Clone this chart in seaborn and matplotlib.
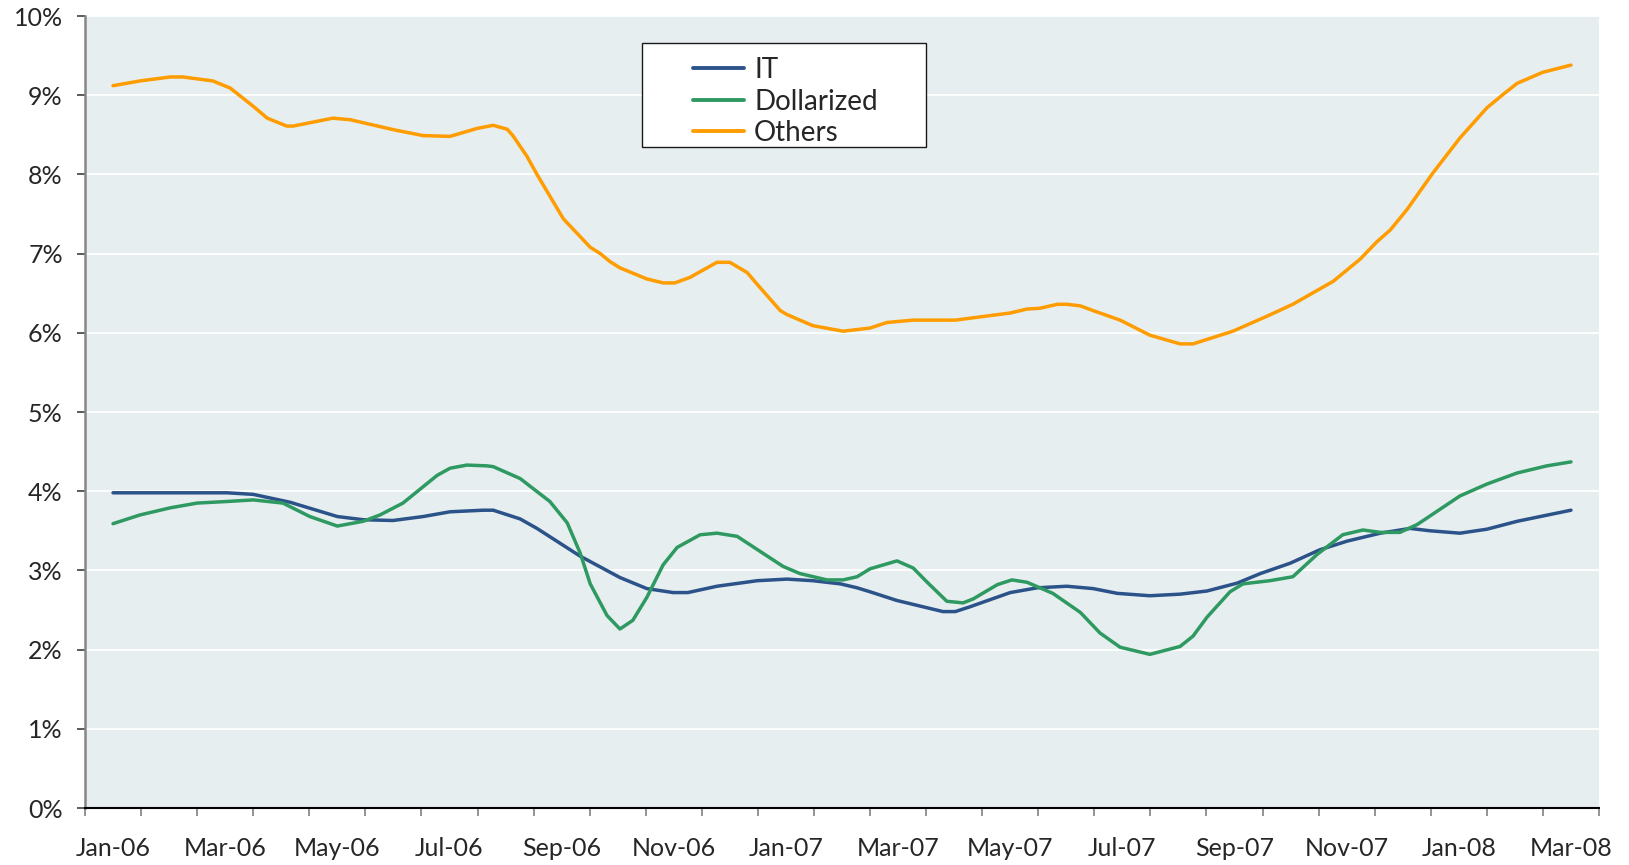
import matplotlib
matplotlib.use("Agg")
import matplotlib.pyplot as plt
import seaborn as sns
import numpy as np
from matplotlib.ticker import FuncFormatter, FixedLocator, NullFormatter
from matplotlib.patches import Rectangle

# ---------------- data ----------------
months = ["Jan-06", "Feb-06", "Mar-06", "Apr-06", "May-06", "Jun-06", "Jul-06", "Aug-06",
          "Sep-06", "Oct-06", "Nov-06", "Dec-06", "Jan-07", "Feb-07", "Mar-07", "Apr-07",
          "May-07", "Jun-07", "Jul-07", "Aug-07", "Sep-07", "Oct-07", "Nov-07", "Dec-07",
          "Jan-08", "Feb-08", "Mar-08"]
tick_labels = months[::2]

# time in months since Jan-06 (0 = Jan-06)
it_t = [0.00, 2.03, 2.50, 3.16, 4.00, 4.46, 4.99, 5.53, 6.01, 6.60, 6.78, 7.26, 7.56, 8.33, 9.04,
        9.52, 9.99, 10.25, 10.77, 11.49, 12.02, 12.48, 12.97, 13.27, 13.50, 13.98, 14.80, 15.02,
        15.28, 16.00, 16.48, 17.01, 17.48, 17.91, 18.49, 19.03, 19.51, 20.05, 20.46, 20.99, 21.52,
        22.01, 22.60, 23.13, 23.49, 24.02, 24.50, 25.04, 26.00]
it_v = [3.98, 3.98, 3.96, 3.86, 3.68, 3.64, 3.63, 3.68, 3.74, 3.76, 3.76, 3.65, 3.53, 3.18, 2.91,
        2.77, 2.72, 2.72, 2.80, 2.87, 2.89, 2.87, 2.83, 2.78, 2.73, 2.62, 2.48, 2.48,
        2.54, 2.72, 2.78, 2.80, 2.77, 2.71, 2.68, 2.70, 2.74, 2.84, 2.96, 3.09, 3.26,
        3.37, 3.47, 3.53, 3.50, 3.47, 3.52, 3.62, 3.76]

dol_t = [0.00, 0.48, 1.02, 1.50, 2.03, 2.50, 3.03, 3.51, 4.00, 4.46, 4.76, 5.17, 5.78, 6.01, 6.31,
         6.67, 6.78, 7.26, 7.79, 8.10, 8.33, 8.51, 8.81, 9.04, 9.27, 9.52, 9.81, 10.06, 10.47, 10.77,
         11.13, 11.54, 11.95, 12.25, 12.73, 13.02, 13.27, 13.50, 13.98, 14.27, 14.52, 14.87, 15.16,
         15.34, 15.77, 16.03, 16.30, 16.76, 17.25, 17.60, 17.96, 18.49, 19.03, 19.26, 19.51, 19.92,
         20.15, 20.63, 21.04, 21.47, 21.93, 22.29, 22.60, 22.95, 23.26, 24.02, 24.50, 25.04, 25.57,
         26.00]
dol_v = [3.59, 3.70, 3.79, 3.85, 3.87, 3.89, 3.85, 3.68, 3.56, 3.62, 3.70, 3.85, 4.20, 4.29, 4.33,
         4.32, 4.31, 4.16, 3.87, 3.60, 3.22, 2.83, 2.43, 2.26, 2.37, 2.66, 3.07, 3.29, 3.45, 3.47,
         3.43, 3.24, 3.05, 2.96, 2.88, 2.88, 2.92, 3.02, 3.12, 3.03, 2.85, 2.61, 2.59,
         2.64, 2.82, 2.88, 2.85, 2.71, 2.47, 2.21, 2.03, 1.94, 2.04, 2.17, 2.41, 2.73,
         2.83, 2.87, 2.92, 3.20, 3.45, 3.51, 3.48, 3.48, 3.58, 3.94, 4.09, 4.23, 4.32,
         4.37]

oth_t = [0.00, 0.48, 1.02, 1.25, 1.78, 2.09, 2.50, 2.75, 3.10, 3.21, 3.92, 4.23, 5.03, 5.53, 6.01,
         6.49, 6.78, 7.03, 7.13, 7.38, 7.56, 8.03, 8.51, 8.69, 8.86, 9.04, 9.52, 9.81, 10.02, 10.29,
         10.77, 11.00, 11.31, 11.49, 11.90, 12.02, 12.48, 13.02, 13.50, 13.80, 14.27, 15.02, 16.00,
         16.30, 16.53, 16.84, 17.01, 17.25, 17.48, 17.96, 18.49, 19.03, 19.26, 19.97, 20.58, 21.04,
         21.76, 22.24, 22.54, 22.78, 23.08, 23.54, 24.02, 24.50, 24.79, 25.04, 25.50, 26.00]
oth_v = [9.12, 9.18, 9.23, 9.23, 9.18, 9.09, 8.86, 8.71, 8.61, 8.61, 8.71, 8.69, 8.56, 8.49, 8.48,
         8.58, 8.62, 8.57, 8.49, 8.23, 8.00, 7.44, 7.08, 7.00, 6.90, 6.82, 6.68, 6.63, 6.63, 6.70,
         6.89, 6.89, 6.76, 6.61, 6.28, 6.23, 6.09, 6.02, 6.06, 6.13, 6.16, 6.16, 6.25,
         6.30, 6.31, 6.36, 6.36, 6.34, 6.28, 6.16, 5.97, 5.86, 5.86, 6.02, 6.21, 6.36,
         6.65, 6.93, 7.15, 7.30, 7.56, 8.02, 8.46, 8.84, 9.01, 9.15, 9.29, 9.38]

series_names = ["IT", "Dollarized", "Others"]
colors = ["#2C5389", "#2E9960", "#FF9C00"]

# ---------------- style ----------------
sns.set_style("white")
plt.rcParams["font.family"] = ["Lato", "DejaVu Sans"]

W, H = 1629, 865
fig = plt.figure(figsize=(W / 100, H / 100), dpi=100)
ax = fig.add_axes([85 / W, 1 - 808 / H, (1599 - 85) / W, (808 - 16) / H])
ax.set_facecolor("#E6EEF0")

for t, v, name, c in zip([it_t, dol_t, oth_t], [it_v, dol_v, oth_v], series_names, colors):
    sns.lineplot(x=t, y=v, ax=ax, color=c, linewidth=2.5, label=name, zorder=3)

ax.set_xlim(-0.5, len(months) - 0.5)
ax.set_ylim(0, 10)

# y axis
ax.yaxis.set_major_locator(FixedLocator(np.arange(0, 11, 1)))
ax.yaxis.set_major_formatter(FuncFormatter(lambda v, p: f"{v:.0f}%"))
ax.grid(axis="y", color="white", linewidth=1.3, zorder=1)
ax.grid(axis="x", visible=False)
ax.set_axisbelow(True)

# x axis: ticks at month boundaries, labels centred every 2 months
ax.xaxis.set_major_locator(FixedLocator(np.arange(-0.5, len(months), 1.0)))
ax.xaxis.set_major_formatter(NullFormatter())
ax.xaxis.set_minor_locator(FixedLocator(np.arange(0, len(months), 2)))
ax.set_xticklabels(tick_labels, minor=True)

ax.tick_params(axis="x", which="major", direction="out", length=6, width=1.2,
               color="#808080", bottom=True)
ax.tick_params(axis="x", which="minor", length=0, pad=21, labelsize=18, bottom=True)
ax.tick_params(axis="y", which="major", direction="out", length=6, width=1.2,
               color="#404040", pad=10, labelsize=18, left=True)

for s in ["top", "right"]:
    ax.spines[s].set_visible(False)
ax.spines["left"].set_color("#868686")
ax.spines["left"].set_linewidth(1.8)
ax.spines["bottom"].set_color("#000000")
ax.spines["bottom"].set_linewidth(1.5)

ax.set_xlabel("")
ax.set_ylabel("")

# legend with Excel-like box
box = Rectangle((642 / W, 1 - 147 / H), (926 - 642) / W, (147 - 43) / H,
                transform=fig.transFigure, facecolor="white", edgecolor="#1a1a1a",
                linewidth=1.0, zorder=4, clip_on=False)
ax.add_patch(box)
leg = ax.legend(loc="upper left", bbox_to_anchor=(693 / W, 1 - 57 / H),
                bbox_transform=fig.transFigure, frameon=False, fontsize=20,
                handlelength=1.85, handletextpad=0.35, labelspacing=0.2,
                borderpad=0, borderaxespad=0)
leg.set_zorder(5)
for line in leg.get_lines():
    line.set_linewidth(2.8)

fig.savefig("out.png", dpi=100)
